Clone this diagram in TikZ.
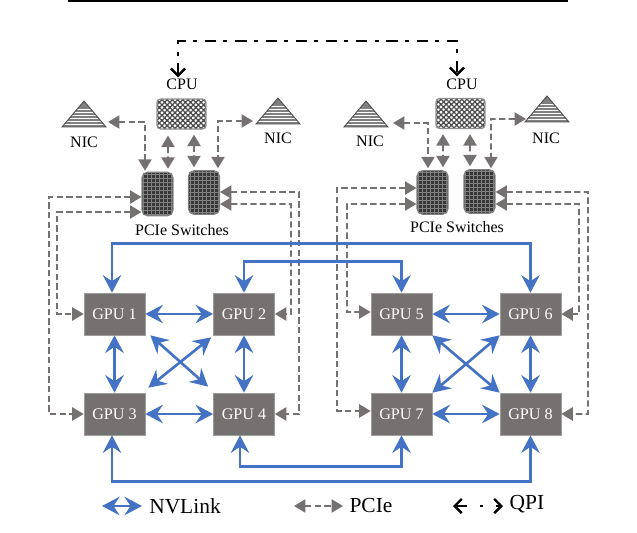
\documentclass[tikz,border=0pt]{standalone}
\usepackage{fontspec}
\setmainfont{Liberation Serif}
\usetikzlibrary{arrows.meta,calc}
\definecolor{linkblue}{HTML}{4472C4}
\definecolor{boxgray}{HTML}{767171}
\tikzset{
    gpubox/.style={fill=boxgray,draw=boxgray!70!white,line width=0.4pt,text=white,font=\fontsize{9.2}{10}\selectfont,
        minimum width=1.22cm,minimum height=0.84cm,inner sep=0pt},
    cpubox/.style={draw=boxgray!80!white,line width=0.7pt,rounded corners=2pt,minimum width=0.98cm,minimum height=0.6cm,inner sep=0pt,
        path picture={
            \foreach \i in {-10,...,9}
                \foreach \j in {-6,...,5} {
                    \pgfmathparse{int(mod(\i+\j+20,2))}
                    \ifnum\pgfmathresult=0
                        \fill[black!70] ($(path picture bounding box.center)+(\i*2.6,\j*2.6)$) rectangle ++(2.6,2.6);
                    \fi
                }
        }},
    switchbox/.style={fill=black!78,draw=black!50,line width=0.6pt,rounded corners=3pt,minimum width=0.62cm,minimum height=0.87cm,inner sep=0pt,
        path picture={
            \foreach \i in {-7,-5,...,7}
                \draw[black!50,line width=0.2pt] ($(path picture bounding box.center)+(\i*2,-24)$) -- ++(0,48);
            \foreach \j in {-10,-8,...,10}
                \draw[black!50,line width=0.2pt] ($(path picture bounding box.center)+(-17,\j*2)$) -- ++(34,0);
        }},
    lbl/.style={font=\fontsize{9.1}{10}\selectfont,inner sep=0pt},
    legendlbl/.style={font=\fontsize{12.2}{14}\selectfont,inner sep=0pt},
    nvlink/.style={draw=linkblue,line width=1.5pt,{Stealth[length=10pt,width=10.5pt,inset=3.5pt]}-{Stealth[length=10pt,width=10.5pt,inset=3.5pt]}},
    pcie/.style={draw=boxgray,line width=1pt,dash pattern=on 3.6pt off 1.9pt,{Triangle[length=6.5pt,width=7.5pt]}-{Triangle[length=6.5pt,width=7.5pt]}},
    qpi/.style={draw=black,line width=1.4pt,dash pattern=on 6.4pt off 4pt on 2.3pt off 4.5pt,{Straight Barb[length=4pt,width=8pt]}-{Straight Barb[length=4pt,width=8pt]}},
    nicicon/.pic={
        \begin{scope}
            \clip (0,0) -- (-22,26) -- (22,26) -- cycle;
            \fill[black!50] (-22,0) rectangle (22,26);
            \foreach \y in {8,11,...,23}
                \draw[white,line width=0.5pt] (-22,\y) -- (22,\y);
        \end{scope}
        \draw[black!70,line width=0.5pt] (0,0) -- (-22,26) -- (22,26) -- cycle;
    }
}
\begin{document}
\begin{tikzpicture}[x=0.02cm,y=-0.02cm]
    \useasboundingbox (0,0) rectangle (637,532);
    \fill[black] (68,0) rectangle (568,2);

    % GPUs
    \foreach \n/\x/\y in {1/114.5/314,2/244/314,3/114.5/414,4/244/414,5/401.5/314,6/530.5/314,7/401.5/414,8/530.5/414}
        \node[gpubox] (gpu\n) at (\x,\y) {GPU \n};

    % CPUs and switches
    \node[cpubox] (cpuL) at (181.5,114) {};
    \node[cpubox] (cpuR) at (460.5,113.5) {};
    \node[lbl] (cpuLtxt) at (182,84) {CPU};
    \node[lbl] (cpuRtxt) at (462,84) {CPU};
    \node[switchbox] (swLa) at (157.5,194) {};
    \node[switchbox] (swLb) at (204,192.5) {};
    \node[switchbox] (swRa) at (432.5,192.5) {};
    \node[switchbox] (swRb) at (479.5,191.5) {};
    \node[lbl] (swLtxt) at (182,230) {PCIe Switches};
    \node[lbl] (swRtxt) at (457,227) {PCIe Switches};

    % NICs
    \pic at (84,101) {nicicon};
    \pic at (278,98) {nicicon};
    \pic at (366,101) {nicicon};
    \pic at (547,96) {nicicon};
    \coordinate (nicLa) at (108,122);
    \coordinate (nicLb) at (253,121);
    \coordinate (nicRa) at (393,123);
    \coordinate (nicRb) at (526,119);
    \node[lbl] (nicLatxt) at (84,142) {NIC};
    \node[lbl] (nicLbtxt) at (278,138) {NIC};
    \node[lbl] (nicRatxt) at (370,141) {NIC};
    \node[lbl] (nicRbtxt) at (546,138) {NIC};

    % QPI
    \draw[qpi] ($(cpuLtxt.north)+(-4,-1)$) -- (178,41) -- (457,41) -- ($(cpuRtxt.north)+(-5,-2)$);

    % PCIe
    \draw[pcie] (nicLa) -- (145,122) -- ($(swLa.north)+(-12.5,-1)$);
    \draw[pcie] ($(cpuL.south)+(-13.5,6)$) -- ($(swLa.north)+(10.5,-3)$);
    \draw[pcie] ($(cpuL.south)+(12.5,5)$) -- ($(swLb.north)+(-10,-3)$);
    \draw[pcie] (nicLb) -- (218,121) -- ($(swLb.north)+(14,-2)$);
    \draw[pcie] ($(swLa.west)+(0,3)$) -- (49,197) |- (gpu3.west);
    \draw[pcie] ($(swLa.west)+(0,18)$) -- (57,212) |- (gpu1.west);
    \draw[pcie] ($(swLb.east)+(0,-0.5)$) -- (299,192) |- (gpu4.east);
    \draw[pcie] ($(swLb.east)+(0,11.5)$) -- (291,204) |- (gpu2.east);

    \draw[pcie] (nicRa) -- (428,123) -- ($(swRa.north)+(-4.5,-2)$);
    \draw[pcie] ($(cpuR.south)+(-17.5,5)$) -- ($(swRa.north)+(10.5,-3)$);
    \draw[pcie] ($(cpuR.south)+(9.5,5)$) -- ($(swRb.north)+(-9.5,-3)$);
    \draw[pcie] (nicRb) -- (491,119) -- ($(swRb.north)+(11.5,-1)$);
    \draw[pcie] ($(swRa.west)+(0,-4.5)$) -- (337,188) |- ($(gpu7.west)+(0,-3)$);
    \draw[pcie] ($(swRa.west)+(0,11.5)$) -- (347,204) |- ($(gpu5.west)+(0,-2)$);
    \draw[pcie] ($(swRb.east)+(0,0.5)$) -- (588,192) |- (gpu8.east);
    \draw[pcie] ($(swRb.east)+(0,12.5)$) -- (579,204) |- (gpu6.east);

    % NVLink
    \foreach \a/\b in {1/2,3/4,5/6,7/8,1/3,2/4,5/7,6/8}
        \draw[nvlink] (gpu\a) -- (gpu\b);
    \draw[nvlink] ($(gpu1.south east)+(5,0)$) -- ($(gpu4.north west)+(-5,-6)$);
    \draw[nvlink] ($(gpu2.south west)+(-2,2)$) -- ($(gpu3.north east)+(3,-5)$);
    \draw[nvlink] (gpu5.south east) -- (gpu8.north west);
    \draw[nvlink] (gpu6.south west) -- (gpu7.north east);
    \draw[nvlink] ($(gpu1.north)+(-2.5,0)$) -- ++(0,-49) -| (gpu6.north);
    \draw[nvlink] (gpu2.north) -- ++(0,-31) -| (gpu5.north);
    \draw[nvlink] ($(gpu3.south)+(-2.5,0)$) -- ++(0,46) -| (gpu8.south);
    \draw[nvlink] ($(gpu4.south)+(-4,0)$) -- ++(0,31) -| (gpu7.south);

    % legend
    \coordinate (nvS) at (102,506);
    \coordinate (nvE) at (142,506);
    \node[legendlbl] (nvTxt) at (185,506) {NVLink};
    \draw[nvlink] (nvS) -- (nvE);
    \coordinate (pcS) at (294,506);
    \coordinate (pcE) at (343,506);
    \node[legendlbl] (pcTxt) at (371,506) {PCIe};
    \draw[pcie] (pcS) -- (pcE);
    \coordinate (qpS) at (453,506);
    \coordinate (qpE) at (503,506);
    \node[legendlbl] (qpTxt) at (527,504) {QPI};
    \draw[qpi,dash pattern=on 6pt off 7.5pt on 2pt off 7.5pt on 6pt] (qpS) -- (qpE);
\end{tikzpicture}
\end{document}
